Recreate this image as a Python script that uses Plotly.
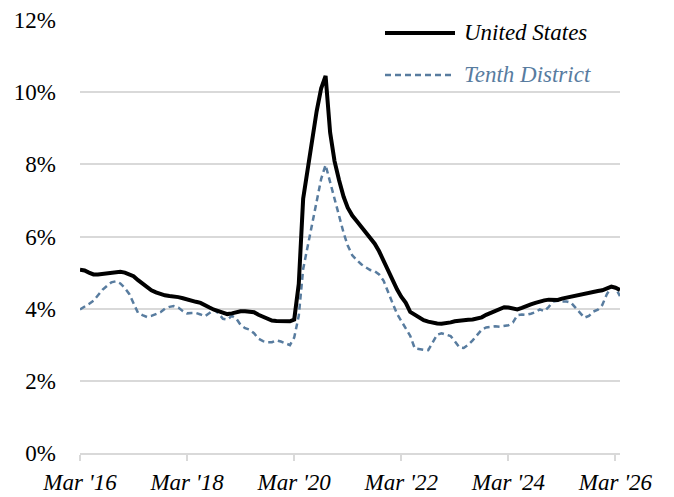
import pandas as pd
import plotly.graph_objects as go

# ---- data ----
start_month = "2016-03-01"
n_months = 122
months = pd.date_range(start_month, periods=n_months, freq="MS")

united_states = [
    5.08, 5.06, 5.00, 4.95, 4.95, 4.96, 4.97, 4.99, 5.01, 5.02,
    5.00, 4.95, 4.90, 4.79, 4.69, 4.60, 4.51, 4.45, 4.40, 4.37,
    4.35, 4.34, 4.32, 4.29, 4.25, 4.22, 4.19, 4.16, 4.11, 4.03,
    3.97, 3.93, 3.88, 3.85, 3.87, 3.91, 3.93, 3.93, 3.92, 3.90,
    3.83, 3.77, 3.71, 3.67, 3.66, 3.65, 3.65, 3.65, 3.70, 4.68,
    7.05, 7.90, 8.77, 9.47, 10.11, 10.45, 8.88, 8.09, 7.56, 7.10,
    6.80, 6.58, 6.43, 6.27, 6.12, 5.97, 5.80, 5.59, 5.32, 5.03,
    4.77, 4.53, 4.33, 4.16, 3.91, 3.83, 3.76, 3.68, 3.64, 3.61,
    3.59, 3.58, 3.59, 3.62, 3.65, 3.67, 3.68, 3.69, 3.70, 3.72,
    3.76, 3.83, 3.88, 3.93, 4.00, 4.04, 4.03, 4.00, 3.98, 4.02,
    4.08, 4.12, 4.16, 4.20, 4.23, 4.25, 4.24, 4.24, 4.28, 4.31,
    4.33, 4.35, 4.37, 4.40, 4.43, 4.46, 4.49, 4.51, 4.56, 4.61,
    4.58, 4.52,
]

tenth_district = [
    3.98, 4.05, 4.13, 4.22, 4.36, 4.52, 4.63, 4.73, 4.76, 4.70,
    4.57, 4.40, 4.15, 3.88, 3.82, 3.77, 3.80, 3.85, 3.90, 4.00,
    4.05, 4.07, 4.03, 3.93, 3.87, 3.88, 3.88, 3.84, 3.79, 3.88,
    3.98, 3.87, 3.72, 3.70, 3.80, 3.72, 3.55, 3.46, 3.42, 3.32,
    3.17, 3.10, 3.07, 3.07, 3.12, 3.09, 3.03, 2.99, 3.20, 3.80,
    5.10, 5.75, 6.40, 6.95, 7.60, 7.98, 7.50, 7.05, 6.60, 6.10,
    5.75, 5.48, 5.35, 5.23, 5.15, 5.07, 5.04, 4.95, 4.77, 4.45,
    4.15, 3.85, 3.65, 3.45, 3.25, 2.90, 2.87, 2.86, 2.85, 3.05,
    3.28, 3.32, 3.27, 3.24, 3.10, 2.93, 2.91, 3.00, 3.12, 3.28,
    3.42, 3.48, 3.50, 3.51, 3.50, 3.52, 3.54, 3.62, 3.82, 3.84,
    3.83, 3.86, 3.90, 3.98, 3.93, 4.05, 4.20, 4.22, 4.20, 4.20,
    4.17, 4.03, 3.88, 3.75, 3.80, 3.92, 3.97, 4.10, 4.40, 4.60,
    4.58, 4.35,
]

x_tick_dates = ["2016-03-01", "2018-03-01", "2020-03-01", "2022-03-01", "2024-03-01", "2026-03-01"]
x_tick_labels = ["Mar '16", "Mar '18", "Mar '20", "Mar '22", "Mar '24", "Mar '26"]
y_tick_values = [0, 2, 4, 6, 8, 10, 12]
y_tick_labels = ["0%", "2%", "4%", "6%", "8%", "10%", "12%"]

series_names = ["United States", "Tenth District"]

# ---- styling ----
BLACK = "#000000"
BLUE = "#587c9f"
GRID = "#d9d9d9"
FONT = "Liberation Serif"

# page body has an 8px margin; compensate so the plot lands at the target pixels
OFF = 8
FIG_W, FIG_H = 674 - OFF, 497 - OFF
L, W = 80 - OFF, 540
T, H = 20 - OFF, 432.7

fig = go.Figure()
fig.add_trace(go.Scatter(
    x=months, y=tenth_district, mode="lines", name=series_names[1],
    line=dict(color=BLUE, width=2.5, dash="6px,4px"), showlegend=False,
))
fig.add_trace(go.Scatter(
    x=months, y=united_states, mode="lines", name=series_names[0],
    line=dict(color=BLACK, width=4), showlegend=False,
))


def px_to_paper_x(px):
    return (px - OFF - L) / W


def py_to_paper_y(py):
    return (T + H - (py - OFF)) / H


# manual legend (long line samples, coloured italic text)
legend_rows = [
    (series_names[0], BLACK, 4, "solid", 33),
    (series_names[1], BLUE, 2.5, "6px,4px", 75),
]
for name, color, width, dash, ypx in legend_rows:
    fig.add_shape(
        type="line", xref="paper", yref="paper",
        x0=px_to_paper_x(385), x1=px_to_paper_x(455),
        y0=py_to_paper_y(ypx), y1=py_to_paper_y(ypx),
        line=dict(color=color, width=width, dash=dash),
    )
    fig.add_annotation(
        xref="paper", yref="paper", x=px_to_paper_x(462), y=py_to_paper_y(ypx - 1),
        xanchor="left", yanchor="middle", showarrow=False,
        text=name, font=dict(family=FONT, size=23, color=color, style="italic"),
    )

fig.update_layout(
    width=FIG_W, height=FIG_H,
    margin=dict(l=L, r=FIG_W - L - W, t=T, b=FIG_H - T - H, autoexpand=False),
    paper_bgcolor="white", plot_bgcolor="white",
    showlegend=False,
    font=dict(family=FONT),
)
fig.update_xaxes(
    type="date", range=["2016-03-01", "2026-04-01"],
    tickvals=x_tick_dates, ticktext=x_tick_labels,
    tickfont=dict(family=FONT, size=23, color="#000000", style="italic"),
    showgrid=False, zeroline=False, automargin=False,
    showline=True, linecolor=GRID, linewidth=1.5,
    ticks="outside", ticklen=6, tickcolor=GRID, tickwidth=1.5,
    ticklabelstandoff=2,
)
fig.update_yaxes(
    range=[0, 12], tickvals=y_tick_values, ticktext=y_tick_labels,
    tickfont=dict(family=FONT, size=23, color="#000000"),
    showgrid=True, gridcolor=GRID, gridwidth=1.5, automargin=False,
    zeroline=False, showline=False, ticks="",
    ticklabelstandoff=23,
)

fig.write_html("out.html")
